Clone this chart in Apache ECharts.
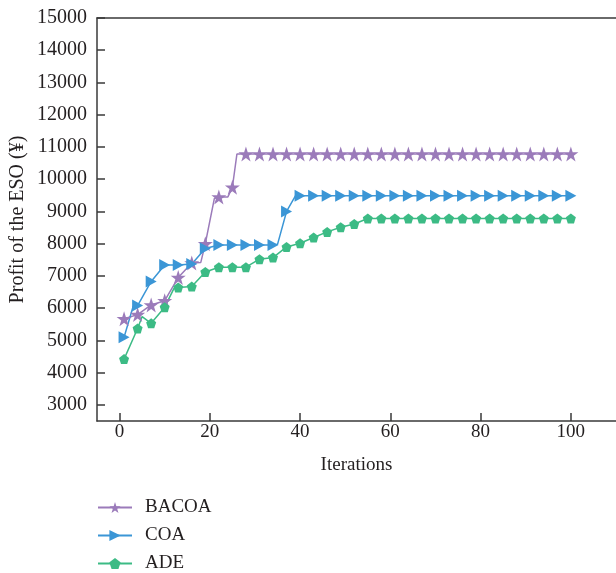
<!DOCTYPE html>
<html>
<head>
<meta charset="utf-8">
<script src="https://cdn.jsdelivr.net/npm/echarts@6/dist/echarts.min.js"></script>
<style>html,body{margin:0;padding:0;background:#fff;}#c{width:616px;height:573px;}</style>
</head>
<body>
<div id="c"></div>
<script>
const seriesNames = ['BACOA', 'COA', 'ADE'];

const bacoaX = [1, 4, 7, 10, 13, 16, 18, 19, 21, 22, 24, 25, 26, 28, 31, 34, 37, 40, 43, 46, 49, 52, 55, 58, 61, 64, 67, 70, 73, 76, 79, 82, 85, 88, 91, 94, 97, 100];
const bacoaY = [5670, 5800, 6100, 6230, 6950, 7400, 7420, 8000, 9400, 9450, 9450, 9750, 10780, 10780, 10780, 10780, 10780, 10780, 10780, 10780, 10780, 10780, 10780, 10780, 10780, 10780, 10780, 10780, 10780, 10780, 10780, 10780, 10780, 10780, 10780, 10780, 10780, 10780];

const coaX = [1, 3, 4, 7, 10, 13, 16, 19, 22, 25, 28, 31, 34, 35, 37, 39, 40, 43, 46, 49, 52, 55, 58, 61, 64, 67, 70, 73, 76, 79, 82, 85, 88, 91, 94, 97, 100];
const coaY = [5100, 6050, 6080, 6830, 7340, 7340, 7370, 7850, 7960, 7960, 7960, 7960, 7960, 7980, 9000, 9490, 9490, 9490, 9490, 9490, 9490, 9490, 9490, 9490, 9490, 9490, 9490, 9490, 9490, 9490, 9490, 9490, 9490, 9490, 9490, 9490, 9490];

const adeX = [1, 4, 5, 7, 10, 12, 13, 16, 19, 22, 25, 28, 31, 34, 37, 40, 43, 46, 49, 52, 55, 58, 61, 64, 67, 70, 73, 76, 79, 82, 85, 88, 91, 94, 97, 100];
const adeY = [4420, 5370, 5740, 5530, 6030, 6600, 6640, 6670, 7120, 7270, 7270, 7270, 7520, 7570, 7900, 8015, 8190, 8365, 8510, 8610, 8780, 8780, 8780, 8780, 8780, 8780, 8780, 8780, 8780, 8780, 8780, 8780, 8780, 8780, 8780, 8780];

const xTicks = [0, 20, 40, 60, 80, 100];
const yTicks = [3000, 4000, 5000, 6000, 7000, 8000, 9000, 10000, 11000, 12000, 13000, 14000, 15000];

const colors = ['#9b7bba', '#3b96d6', '#3cbb85'];
const STAR = 'path://M50,0 L61.8,35.3 L98.9,35.3 L68.9,57.4 L80.3,92.7 L50,70.9 L19.7,92.7 L31.1,57.4 L1.1,35.3 L38.2,35.3 Z';
const PENT = 'path://M50,0 L100,36.3 L80.9,95.1 L19.1,95.1 L0,36.3 Z';

function build(xs, ys) {
  return xs.map((x, i) => {
    const item = { value: [x, ys[i]] };
    if (x % 3 !== 1) item.symbol = 'none';
    return item;
  });
}

const font = '"Liberation Serif", "DejaVu Serif", serif';
const textColor = '#231f20';
const axisColor = '#3a3a3a';

const chart = echarts.init(document.getElementById('c'), null, { renderer: 'canvas' });
chart.setOption({
  animation: false,
  color: colors,
  textStyle: { fontFamily: font },
  grid: { left: 97, top: 18, right: 0, bottom: 152, containLabel: false, outerBoundsMode: 'none' },
  legend: {
    orient: 'vertical',
    left: 97,
    top: 498,
    height: 90,
    padding: 0,
    itemWidth: 34,
    itemHeight: 14,
    itemGap: 9,
    textStyle: { fontFamily: font, fontSize: 19, color: textColor, padding: [0, 0, 0, 8] },
    data: seriesNames
  },
  xAxis: [{
    type: 'value',
    min: -5,
    max: 110,
    name: 'Iterations',
    nameLocation: 'middle',
    nameGap: 35,
    nameMoveOverlap: false,
    nameTextStyle: { fontFamily: font, fontSize: 19, color: textColor },
    axisLine: { show: true, onZero: false, lineStyle: { color: axisColor, width: 1.5 } },
    axisTick: { show: true, inside: false, length: -8, customValues: xTicks, lineStyle: { color: axisColor, width: 1.5 } },
    axisLabel: { customValues: xTicks, fontFamily: font, fontSize: 19, color: textColor, margin: 2, formatter: v => String(v) },
    splitLine: { show: false }
  }, {
    type: 'value',
    position: 'top',
    min: -5,
    max: 110,
    axisLine: { show: true, onZero: false, lineStyle: { color: axisColor, width: 1.5 } },
    axisTick: { show: false },
    axisLabel: { show: false },
    splitLine: { show: false }
  }],
  yAxis: {
    type: 'value',
    min: 2500,
    max: 15000,
    name: 'Profit of the ESO (¥)',
    nameLocation: 'middle',
    nameGap: 69,
    nameMoveOverlap: false,
    nameTextStyle: { fontFamily: font, fontSize: 20, color: textColor },
    axisLine: { show: true, onZero: false, lineStyle: { color: axisColor, width: 1.5 } },
    axisTick: { show: true, inside: false, length: -8, customValues: yTicks, lineStyle: { color: axisColor, width: 1.5 } },
    axisLabel: { customValues: yTicks, fontFamily: font, fontSize: 20, color: textColor, margin: 10, formatter: v => String(v) },
    splitLine: { show: false }
  },
  series: [{
    name: seriesNames[0],
    type: 'line',
    data: build(bacoaX, bacoaY),
    symbol: STAR,
    symbolSize: 15,
    showAllSymbol: true,
    lineStyle: { width: 1.5 },
    itemStyle: { color: colors[0] }
  }, {
    name: seriesNames[1],
    type: 'line',
    data: build(coaX, coaY),
    symbol: 'triangle',
    symbolSize: [12, 11],
    symbolRotate: -90,
    showAllSymbol: true,
    lineStyle: { width: 1.5 },
    itemStyle: { color: colors[1] }
  }, {
    name: seriesNames[2],
    type: 'line',
    data: build(adeX, adeY),
    symbol: PENT,
    symbolSize: 10,
    showAllSymbol: true,
    lineStyle: { width: 1.5 },
    itemStyle: { color: colors[2] }
  }]
});
</script>
</body>
</html>
